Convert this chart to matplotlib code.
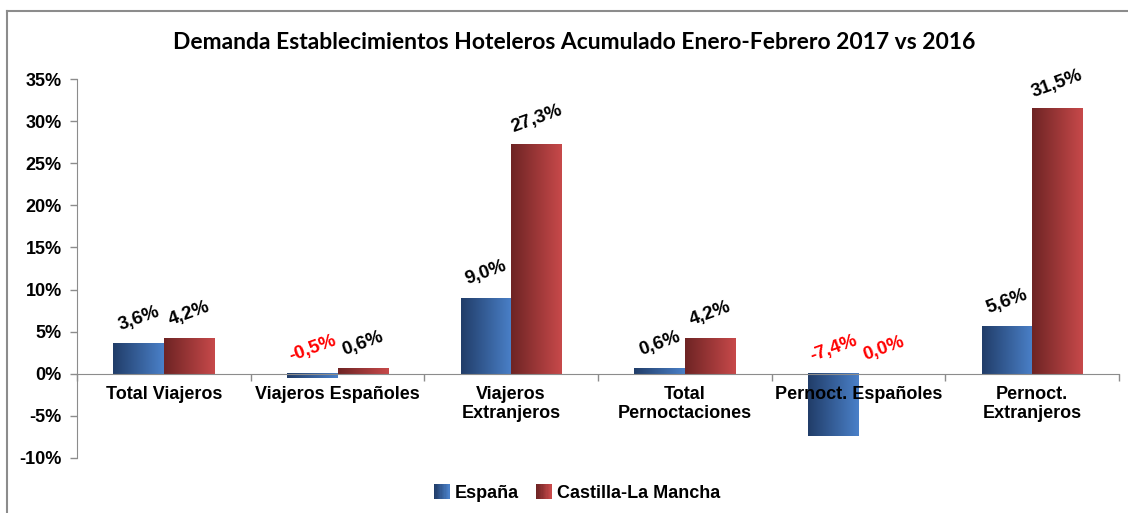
import numpy as np
import matplotlib
matplotlib.use("Agg")
import matplotlib.pyplot as plt
from matplotlib.colors import LinearSegmentedColormap
from matplotlib.patches import Rectangle
from matplotlib.legend_handler import HandlerBase
from matplotlib.lines import Line2D

categorias = ["Total Viajeros", "Viajeros Españoles", "Viajeros\nExtranjeros",
              "Total\nPernoctaciones", "Pernoct. Españoles", "Pernoct.\nExtranjeros"]
espana = [3.6, -0.5, 9.0, 0.6, -7.4, 5.6]
clm = [4.2, 0.6, 27.3, 4.2, 0.0, 31.5]
series = ["España", "Castilla-La Mancha"]
yticks = [-10, -5, 0, 5, 10, 15, 20, 25, 30, 35]

plt.rcParams['font.family'] = ['Liberation Sans', 'DejaVu Sans']
plt.rcParams['font.weight'] = 'bold'

cmap_azul = LinearSegmentedColormap.from_list("azul", ["#213D69", "#4A80C8"])
cmap_rojo = LinearSegmentedColormap.from_list("rojo", ["#6E2424", "#C7494A"])

fig = plt.figure(figsize=(11.28, 5.13), dpi=100)
ax = fig.add_axes([77/1128, 1-458/513, (1119-77)/1128, (458-79)/513])

x = np.arange(len(categorias))
w = 0.29
grad = np.linspace(0, 1, 100).reshape(1, -1)

for vals, off, cmap in [(espana, -w/2, cmap_azul), (clm, w/2, cmap_rojo)]:
    bars = ax.bar(x + off, vals, w, color='none', edgecolor='none')
    for b, v in zip(bars, vals):
        x0 = b.get_x()
        y0, y1 = sorted([0, v])
        if y1 > y0:
            ax.imshow(grad, extent=[x0, x0 + w, y0, y1], cmap=cmap, aspect='auto', zorder=2)
        col = 'red' if v <= 0 else 'black'
        ax.annotate(f"{v:.1f}%".replace('.', ','), (x0 + w/2, max(v, 0)),
                    xytext=(0, 25), textcoords='offset pixels', ha='center', va='center',
                    rotation=20, fontsize=13.5, fontweight='bold', color=col)

ax.set_xlim(-0.5, 5.5)
ax.set_ylim(-10, 35)
ax.set_yticks(yticks)
ax.set_yticklabels([f"{t}%" for t in yticks], fontsize=13, fontweight='bold')

gris = '#8C8C8C'
for s in ['top', 'right']:
    ax.spines[s].set_visible(False)
ax.spines['left'].set_color(gris)
ax.spines['bottom'].set_color(gris)
ax.spines['bottom'].set_position(('data', 0))
ax.set_xticks(np.arange(-0.5, 6, 1))
ax.set_xticklabels([])
ax.tick_params(axis='both', colors=gris, length=5, width=1)
ax.tick_params(axis='y', labelcolor='black', pad=6)

for xi, cat in zip(x, categorias):
    ax.text(xi, -1.5, cat, ha='center', va='top', fontsize=13, fontweight='bold',
            linespacing=1.15)

fig.text(0.509, 1-43/513, "Demanda Establecimientos Hoteleros Acumulado Enero-Febrero 2017 vs 2016",
         ha='center', va='center', fontsize=16.5, fontweight='bold', family=['Lato', 'DejaVu Sans'])


class GradHandler(HandlerBase):
    def __init__(self, cmap):
        super().__init__()
        self.cmap = cmap

    def create_artists(self, legend, orig_handle, xdescent, ydescent, width, height, fontsize, trans):
        s = 11
        n = 12
        y0 = -ydescent + (height - s) / 2
        return [Rectangle((-xdescent + width - s + i * s / n, y0), s / n + 0.3, s,
                          facecolor=self.cmap(i / (n - 1)), lw=0, transform=trans) for i in range(n)]


h1 = Rectangle((0, 0), 1, 1)
h2 = Rectangle((0, 0), 1, 1)
fig.legend([h1, h2], series, loc='center', bbox_to_anchor=(0.512, 1-493/513), ncol=2, frameon=False,
           handler_map={h1: GradHandler(cmap_azul), h2: GradHandler(cmap_rojo)},
           handlelength=0.8, handletextpad=0.3, columnspacing=1.0,
           prop={'size': 13, 'weight': 'bold'})

fig.add_artist(Line2D([7/1128, 7/1128], [0, 1-11/513], color=gris, lw=1.5, transform=fig.transFigure))
fig.add_artist(Line2D([7/1128, 1], [1-11/513, 1-11/513], color=gris, lw=1.5, transform=fig.transFigure))

fig.savefig("out.png", dpi=100)
